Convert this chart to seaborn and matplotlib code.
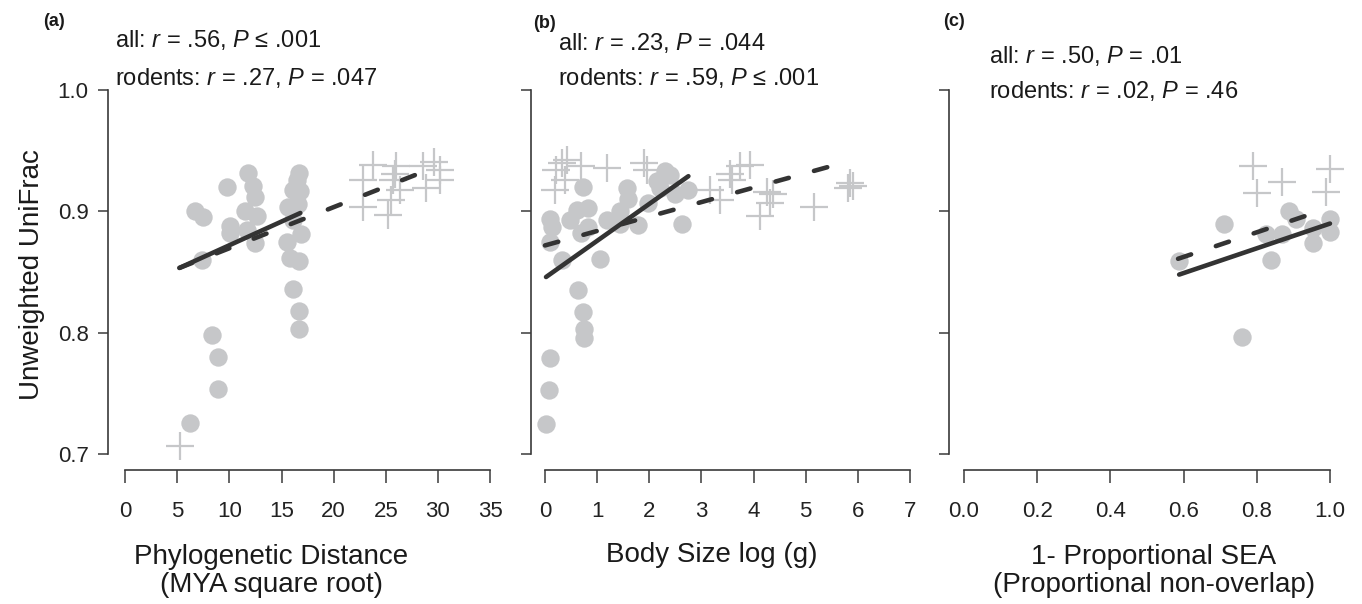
import numpy as np
import pandas as pd
import matplotlib
matplotlib.use("Agg")
import matplotlib.pyplot as plt
import seaborn as sns

# Panel (a): phylogenetic distance
a_rod_x = [6.7, 7.5, 7.4, 9.8, 11.8, 12.3, 12.45, 11.5, 12.6, 10.05, 10.05, 12.45, 11.7,
           8.3, 8.9, 8.9, 6.2, 16.7, 16.5, 16.1, 16.8, 15.6, 16.6, 16.1, 16.9, 15.5,
           15.8, 16.7, 16.1, 16.7, 16.7]
a_rod_y = [0.900, 0.895, 0.860, 0.920, 0.932, 0.921, 0.912, 0.900, 0.896, 0.888, 0.882, 0.874, 0.885,
           0.798, 0.780, 0.754, 0.726, 0.932, 0.926, 0.918, 0.917, 0.904, 0.906, 0.893, 0.881, 0.875,
           0.862, 0.859, 0.836, 0.818, 0.803]
a_oth_x = [5.25, 23.8, 22.8, 22.8, 25.2, 26.0, 25.7, 26.4, 25.5, 25.9, 28.6, 29.6, 30.2, 28.9, 30.2]
a_oth_y = [0.707, 0.938, 0.926, 0.904, 0.897, 0.937, 0.926, 0.918, 0.909, 0.931, 0.937, 0.941, 0.934, 0.919, 0.926]
a_fit_rod = ([5.2, 16.8], [0.8535, 0.8987])
a_fit_all = ([5.2, 29.6], [0.8535, 0.9360])

# Panel (b): body size
b_rod_x = [0.10, 0.13, 0.10, 0.32, 0.64, 0.73, 0.75, 0.75, 0.10, 0.08, 0.02, 0.73, 0.61, 0.83,
           0.48, 0.70, 0.83, 1.05, 1.18, 1.44, 1.57, 1.60, 1.79, 1.98, 2.30, 2.40, 2.21, 2.49,
           2.75, 2.62, 2.15, 1.44]
b_rod_y = [0.894, 0.887, 0.875, 0.860, 0.835, 0.817, 0.803, 0.796, 0.779, 0.753, 0.725, 0.920, 0.901, 0.903,
           0.893, 0.882, 0.887, 0.861, 0.893, 0.890, 0.919, 0.910, 0.889, 0.907, 0.933, 0.930, 0.919, 0.914,
           0.918, 0.890, 0.925, 0.900]
b_oth_x = [0.32, 0.42, 0.22, 0.19, 0.38, 0.70, 1.18, 1.89, 1.95, 3.16, 3.36, 3.55, 3.74, 3.93,
           3.59, 4.25, 4.37, 4.12, 4.31, 5.15, 5.85, 5.82, 5.91]
b_oth_y = [0.940, 0.942, 0.934, 0.918, 0.926, 0.937, 0.936, 0.940, 0.934, 0.918, 0.909, 0.931, 0.937, 0.938,
           0.926, 0.916, 0.914, 0.896, 0.907, 0.904, 0.923, 0.919, 0.921]
b_fit_rod = ([0.02, 2.75], [0.846, 0.929])
b_fit_all = ([0.0, 5.8], [0.872, 0.941])

# Panel (c): isotopic niche non-overlap
c_rod_x = [0.588, 0.710, 0.761, 0.825, 0.838, 0.868, 0.889, 0.907, 0.953, 0.955, 1.0, 1.0]
c_rod_y = [0.859, 0.890, 0.797, 0.881, 0.860, 0.881, 0.900, 0.894, 0.874, 0.886, 0.894, 0.883]
c_oth_x = [0.79, 0.80, 0.87, 1.0, 0.99]
c_oth_y = [0.937, 0.915, 0.924, 0.935, 0.916]
c_fit_rod = ([0.588, 1.0], [0.848, 0.890])
c_fit_all = ([0.585, 0.96], [0.861, 0.899])

y_ticks = [0.7, 0.8, 0.9, 1.0]
y_ticklabels = ["0.7", "0.8", "0.9", "1.0"]
a_ticks = [0, 5, 10, 15, 20, 25, 30, 35]
b_ticks = [0, 1, 2, 3, 4, 5, 6, 7]
c_ticks = [0.0, 0.2, 0.4, 0.6, 0.8, 1.0]
c_ticklabels = ["0.0", "0.2", "0.4", "0.6", "0.8", "1.0"]

stats = [
    ("all: $r$ = .56, $P$ ≤ .001", "rodents: $r$ = .27, $P$ = .047"),
    ("all: $r$ = .23, $P$ = .044", "rodents: $r$ = .59, $P$ ≤ .001"),
    ("all: $r$ = .50, $P$ = .01", "rodents: $r$ = .02, $P$ = .46"),
]
xlabels = ["Phylogenetic Distance\n(MYA square root)", "Body Size log (g)",
           "1- Proportional SEA\n(Proportional non-overlap)"]

sns.set_theme(style="ticks")
plt.rcParams["font.family"] = ["Liberation Sans", "DejaVu Sans"]
plt.rcParams["mathtext.fontset"] = "custom"
plt.rcParams["mathtext.rm"] = "Liberation Sans"
plt.rcParams["mathtext.it"] = "Liberation Sans:italic"

W, H = 1362, 604
fig = plt.figure(figsize=(W / 100, H / 100), dpi=100)

PT = "#c6c7c9"
LN = "#333333"
AX = "#3a3a3a"

# axes placement in pixels: left, right, xlim
layout = [
    (108.0, 507.3, (-1.66, 36.66)),
    (530.7, 924.3, (-0.274, 7.274)),
    (949.3, 1344.6, (-0.040, 1.040)),
]
bottom_px, top_px = 470.0, 74.3

panels = [
    (a_rod_x, a_rod_y, a_oth_x, a_oth_y, a_fit_rod, a_fit_all, a_ticks, [str(t) for t in a_ticks]),
    (b_rod_x, b_rod_y, b_oth_x, b_oth_y, b_fit_rod, b_fit_all, b_ticks, [str(t) for t in b_ticks]),
    (c_rod_x, c_rod_y, c_oth_x, c_oth_y, c_fit_rod, c_fit_all, c_ticks, c_ticklabels),
]

text_pos = [(115, 47, 85), (558, 50, 85), (989, 63, 98)]
tag_pos = [(43, 22, "(a)"), (533, 23, "(b)"), (943, 22, "(c)")]
xlabel_pos = [(271, 571), (712, 555), (1154, 571)]

for i, (rx, ry, ox, oy, frod, fall, xt, xtl) in enumerate(panels):
    l, r, xlim = layout[i]
    ax = fig.add_axes([l / W, (H - bottom_px) / H, (r - l) / W, (bottom_px - top_px) / H])

    sns.scatterplot(x=rx, y=ry, ax=ax, color=PT, s=175, marker="o", linewidth=0, zorder=2)
    sns.scatterplot(x=ox, y=oy, ax=ax, color=PT, s=400, marker="+", linewidth=1.6, zorder=2)

    sns.lineplot(x=fall[0], y=fall[1], ax=ax, color=LN, lw=3.3, linestyle=(0, (3.0, 5.7)),
                 dash_capstyle="round", solid_capstyle="round", zorder=3)
    sns.lineplot(x=frod[0], y=frod[1], ax=ax, color=LN, lw=3.3,
                 solid_capstyle="round", zorder=3)

    ax.set_xlim(*xlim)
    ax.set_ylim(0.6871, 1.0129)
    ax.set_xticks(xt)
    ax.set_xticklabels(xtl)
    ax.set_yticks(y_ticks)
    if i == 0:
        ax.set_yticklabels(y_ticklabels)
    else:
        ax.set_yticklabels([])
    ax.tick_params(axis="x", length=9, width=1.1, color=AX, labelsize=16, pad=13, labelcolor="#222222")
    ax.tick_params(axis="y", length=7, width=1.1, color=AX, labelsize=16, pad=7, labelcolor="#222222")
    sns.despine(ax=ax, trim=True)
    for sp in ["left", "bottom"]:
        ax.spines[sp].set_color(AX)
        ax.spines[sp].set_linewidth(1.2)
    ax.set_xlabel("")
    ax.set_ylabel("")

    tx, y1, y2 = text_pos[i]
    fig.text(tx / W, 1 - y1 / H, stats[i][0], fontsize=17, va="baseline", ha="left", color="#1a1a1a")
    fig.text(tx / W, 1 - y2 / H, stats[i][1], fontsize=17, va="baseline", ha="left", color="#1a1a1a")
    px, py, tag = tag_pos[i]
    fig.text(px / W, 1 - py / H, tag, fontsize=13, fontweight="bold", va="center", ha="left", color="#1a1a1a")
    lx, ly = xlabel_pos[i]
    fig.text(lx / W, 1 - ly / H, xlabels[i], fontsize=20, va="center", ha="center",
             linespacing=1.1, color="#1a1a1a")

fig.text(31.7 / W, 1 - 275 / H, "Unweighted UniFrac", fontsize=20, rotation=90,
         va="center", ha="center", color="#1a1a1a")

fig.savefig("out.png", dpi=100)
